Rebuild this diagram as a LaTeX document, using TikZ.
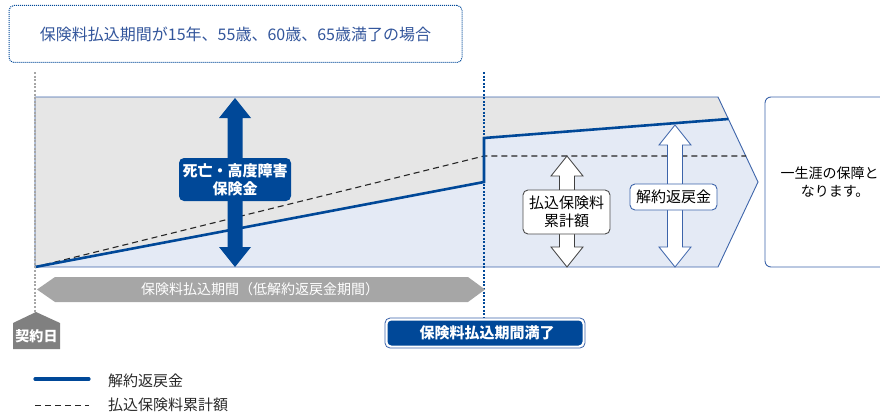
\documentclass[tikz,border=0pt]{standalone}
\usepackage{fontspec}
\setmainfont{Noto Sans CJK JP}
\definecolor{dblue}{RGB}{0,72,152}
\definecolor{lblue}{RGB}{228,234,245}
\definecolor{lgray}{RGB}{230,230,230}
\definecolor{oblue}{RGB}{60,100,170}
\definecolor{agray}{RGB}{166,166,166}
\definecolor{kgray}{RGB}{128,128,128}
\definecolor{ttext}{RGB}{50,85,155}
\definecolor{ltext}{RGB}{40,40,40}
\newcommand\dbarrow[4]{\path[#4] (#1,#2) -- ({#1+16},{#2+20}) -- ({#1+7.5},{#2+20}) -- ({#1+7.5},{#3-20}) -- ({#1+16},{#3-20}) -- (#1,#3) -- ({#1-16},{#3-20}) -- ({#1-7.5},{#3-20}) -- ({#1-7.5},{#2+20}) -- ({#1-16},{#2+20}) -- cycle;}
\tikzset{
  fs/.style={font=\fontsize{#1}{18}\selectfont},
  lbl/.style={rounded corners=5, align=center, inner sep=0pt},
  dotline/.style={line width=2.4pt, dash pattern=on 2pt off 1.6pt},
}
\begin{document}
\begin{tikzpicture}[x=1pt,y=-1pt]
\useasboundingbox (0,0) rectangle (880,412);
% title box
\node[draw=dblue, line width=1pt, dash pattern=on 1pt off 1pt, rounded corners=5,
  minimum width=453, minimum height=57, text=ttext, fs=16] (title) at (235.5,34) {保険料払込期間が15年、55歳、60歳、65歳満了の場合};
% fills
\fill[lblue] (35,97) -- (718,97) -- (758,182) -- (718,267) -- (35,267) -- cycle;
\fill[lgray] (35,97) -- (718,97) -- (728.4,119) -- (484,138) -- (484,182) -- (35,267) -- cycle;
\draw[oblue, line width=0.9pt, line join=miter] (35,97) -- (718,97) -- (758,182) -- (718,267) -- (35,267) -- cycle;
% dashed cumulative premium
\draw[black!85, line width=1.1pt, dash pattern=on 6pt off 4pt] (35,267) -- (484,156) -- (746,156);
% surrender value line
\draw[dblue, line width=2.6pt, line join=miter] (35,267) -- (484,182) -- (484,138) -- (728.4,119);
% vertical dotted lines
\coordinate (gtop) at (35,72);
\coordinate (btop) at (484,72);
\draw[black!35, dotline] (gtop) -- (35,312);
\draw[dblue, dotline] (btop) -- (484,318);
% dark blue double arrow
\dbarrow{235}{98}{267}{fill=dblue}
\node[lbl, fill=dblue, text=white, minimum width=112, minimum height=43, font=\bfseries\fontsize{15}{18}\selectfont] (death) at (235,179.5) {死亡・高度障害\\保険金};
% hollow arrows
\dbarrow{567}{156}{267}{fill=white, draw=black!75, line width=0.8pt, line join=miter}
\node[lbl, draw=black!70, line width=0.9pt, fill=white, text=black, minimum width=87, minimum height=44, fs=15] (cum) at (566.5,212) {払込保険料\\累計額};
\dbarrow{675}{125}{267}{fill=white, draw=oblue, line width=0.8pt, line join=miter}
\node[lbl, draw=oblue, line width=0.9pt, fill=white, text=black, minimum width=87, minimum height=26, fs=15] (surr) at (673.5,197) {解約返戻金};
% right box
\draw[oblue, line width=0.9pt, rounded corners=6] (765,97) rectangle (900,267);
\node[anchor=west, align=left, fs=14, text=black] (life) at (777,182) {一生涯の保障と\\\hspace{1.45em}なります。};
% gray period arrow
\fill[agray] (37,289.5) -- (55,277) -- (468,277) -- (485,289.5) -- (468,302) -- (55,302) -- cycle;
\node[text=white, fs=14] (period) at (260,289.5) {保険料払込期間（低解約返戻金期間）};
% contract day
\fill[kgray] (36,312) -- (60,323) -- (60,349) -- (13,349) -- (13,323) -- cycle;
\node[text=white, font=\bfseries\fontsize{14}{18}\selectfont] (keiyaku) at (36.5,336) {契約日};
% end of payment
\draw[oblue, line width=0.8pt, fill=white, rounded corners=5] (385,318) rectangle (585,348);
\fill[dblue, rounded corners=4] (387.5,320.5) rectangle (582.5,345.5);
\node[text=white, font=\bfseries\fontsize{15}{18}\selectfont] (manryo) at (487,333) {保険料払込期間満了};
% legend
\coordinate (l1a) at (35,379); \coordinate (l1b) at (89,379);
\coordinate (l2a) at (35,405); \coordinate (l2b) at (89,405);
\draw[dblue, line width=3.2pt, line cap=round] (l1a) -- (l1b);
\draw[black!85, line width=0.9pt, dash pattern=on 6pt off 4pt] (l2a) -- (l2b);
\node[anchor=west, inner sep=0pt, fs=15, text=ltext] (leg1) at (108,381) {解約返戻金};
\node[anchor=west, inner sep=0pt, fs=15, text=ltext] (leg2) at (108,405) {払込保険料累計額};
\end{tikzpicture}
\end{document}
